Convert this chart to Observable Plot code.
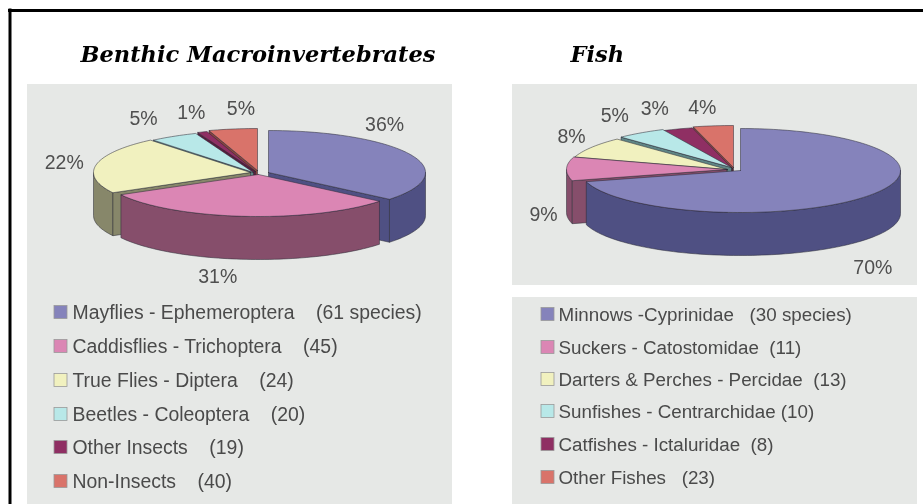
<!DOCTYPE html>
<html>
<head>
<meta charset="utf-8">
<script src="https://cdn.jsdelivr.net/npm/d3@7"></script>
<script src="https://cdn.jsdelivr.net/npm/@observablehq/plot@0.6"></script>
<style>
html,body{margin:0;padding:0;background:#fff;}
svg{display:block;filter:blur(0.6px);}
</style>
</head>
<body>
<div id="chart"></div>
<script>
// ---- Data ----
const benthicTitle = "Benthic Macroinvertebrates";
const fishTitle = "Fish";
const benthicPercents = [36,31,22,5,1,5];
const fishPercents = [70,9,8,5,3,4];
const benthicLabels = [
  "Mayflies - Ephemeroptera\u00a0\u00a0\u00a0\u00a0(61 species)",
  "Caddisflies - Trichoptera\u00a0\u00a0\u00a0\u00a0(45)",
  "True Flies - Diptera\u00a0\u00a0\u00a0\u00a0(24)",
  "Beetles - Coleoptera\u00a0\u00a0\u00a0\u00a0(20)",
  "Other Insects\u00a0\u00a0\u00a0\u00a0(19)",
  "Non-Insects\u00a0\u00a0\u00a0\u00a0(40)"
];
const fishLabels = [
  "Minnows -Cyprinidae\u00a0\u00a0\u00a0(30 species)",
  "Suckers - Catostomidae\u00a0\u00a0(11)",
  "Darters & Perches - Percidae\u00a0\u00a0(13)",
  "Sunfishes - Centrarchidae (10)",
  "Catfishes - Ictaluridae\u00a0\u00a0(8)",
  "Other Fishes\u00a0\u00a0\u00a0(23)"
];

// ---- Styles ----
const topColors  = ["#8583bb","#db86b4","#f1f1bf","#b8e8e8","#8f2f63","#d9736a"];
const sideColors = ["#4f5083","#864e6b","#87876a","#5f8585","#5a1c3e","#8a4540"];
const panelColor = "#e6e8e6";
const labelColor = "#4a4a4a";

// ---- Layout ----
const benthicPie = {
  rx:157, ry:42, depth:43,
  centers:[[268,172],[258,174],[250,172],[253,172],[255,171],[257,170]],
  nudges:[[-26,-30],[-26,60],[-32,-2],[-30,-18],[-11,-19],[8,-20]],
  order:[5,4,3,2,0,1]
};
const fishPie = {
  rx:160, ry:42, depth:43,
  centers:[[740,170],[726,169],[727,169],[731,167],[732,168],[733,167]],
  nudges:[[5,72],[-23,46],[-20,-11],[-26,-17],[-23,-20],[-11,-18]],
  order:[5,4,3,2,1,0]
};
const panels = [
  {x1:27,x2:452,y1:84,y2:504},
  {x1:512,x2:917,y1:84,y2:285},
  {x1:512,x2:917,y1:297,y2:504}
];

// ---- Geometry through the library's scales ----
const polygons = [];
const percentText = [];
let polyId = 0;
function addPoly(points, fill){
  const id = polyId++;
  points.forEach(p => polygons.push({id, x:p[0], y:p[1], fill}));
}
function buildPie(values, layout){
  const arcs = d3.pie().sort(null).value(d => d)(values);
  const {rx, ry, depth, centers, nudges, order} = layout;
  const rim = (i,a,dz=0) => [centers[i][0] + rx*Math.sin(a), centers[i][1] - ry*Math.cos(a) + dz];
  const span = (a0,a1) => {
    const n = Math.max(2, Math.ceil((a1-a0)/0.03));
    return d3.range(n+1).map(k => a0 + (a1-a0)*k/n);
  };
  order.forEach(i => {
    const a0 = arcs[i].startAngle, a1 = arcs[i].endAngle;
    const [cx,cy] = centers[i];
    const w0 = Math.max(a0, Math.PI/2), w1 = Math.min(a1, 3*Math.PI/2);
    if (w1 > w0) {
      const t = span(w0,w1);
      addPoly([...t.map(a=>rim(i,a)), ...t.slice().reverse().map(a=>rim(i,a,depth)), rim(i,w0)], sideColors[i]);
    }
    const face = a => addPoly([[cx,cy], rim(i,a), rim(i,a,depth), [cx,cy+depth], [cx,cy]], sideColors[i]);
    if (a1 > 0 && a1 < Math.PI) face(a1);
    if (a0 > Math.PI && a0 < 2*Math.PI) face(a0);
    addPoly([[cx,cy], ...span(a0,a1).map(a=>rim(i,a)), [cx,cy]], topColors[i]);
    const mid = (a0+a1)/2, r = rim(i,mid);
    percentText.push({x:r[0]+nudges[i][0], y:r[1]+nudges[i][1], text:values[i]+"%"});
  });
}
buildPie(benthicPercents, benthicPie);
buildPie(fishPercents, fishPie);

const legendRows = (labels, x, ys, size) => labels.map((label,i) => ({label, x, y:ys[i], fill:topColors[i], size}));
const legend = [
  ...legendRows(benthicLabels, 54, [312,346,380,414,447,481], 19.4),
  ...legendRows(fishLabels, 541, [314,347,379,411,444,477], 18.8)
];

const plot = Plot.plot({
  width:923, height:504,
  margin:0,
  x:{domain:[0,923], range:[0,923], axis:null},
  y:{domain:[0,504], range:[0,504], axis:null},
  style:{background:"#fff"},
  marks:[
    Plot.rect(panels,{x1:"x1",x2:"x2",y1:"y1",y2:"y2",fill:panelColor}),
    Plot.ruleY([10],{x1:8,x2:923,stroke:"#000",strokeWidth:3}),
    Plot.ruleX([9.5],{y1:8.5,y2:504,stroke:"#000",strokeWidth:3}),
    Plot.line(polygons,{x:"x",y:"y",z:"id",fill:{value:d=>d.fill,scale:null},stroke:"#2a2a35",strokeWidth:0.7,strokeOpacity:0.75,curve:"linear"}),
    Plot.text(percentText,{x:"x",y:"y",text:"text",fontFamily:"Liberation Sans",fontSize:19.5,fill:"#4f4f4f"}),
    Plot.rect(legend,{x1:"x",x2:d=>d.x+13,y1:d=>d.y-6.5,y2:d=>d.y+6.5,fill:{value:d=>d.fill,scale:null},stroke:"#999",strokeWidth:0.8}),
    Plot.text(legend.filter(d=>d.size>19),{x:d=>d.x+18,y:"y",text:"label",textAnchor:"start",fontFamily:"Liberation Sans",fontSize:19.4,fill:labelColor}),
    Plot.text(legend.filter(d=>d.size<19),{x:d=>d.x+17,y:"y",text:"label",textAnchor:"start",fontFamily:"Liberation Sans",fontSize:18.8,fill:labelColor}),
    Plot.text([{x:80,y:54,t:benthicTitle},{x:570,y:54,t:fishTitle}],{x:"x",y:"y",text:"t",textAnchor:"start",fontFamily:"DejaVu Serif",fontWeight:"bold",fontStyle:"italic",fontSize:22.5,fill:"#000"})
  ]
});
document.getElementById("chart").appendChild(plot);
</script>
</body>
</html>
